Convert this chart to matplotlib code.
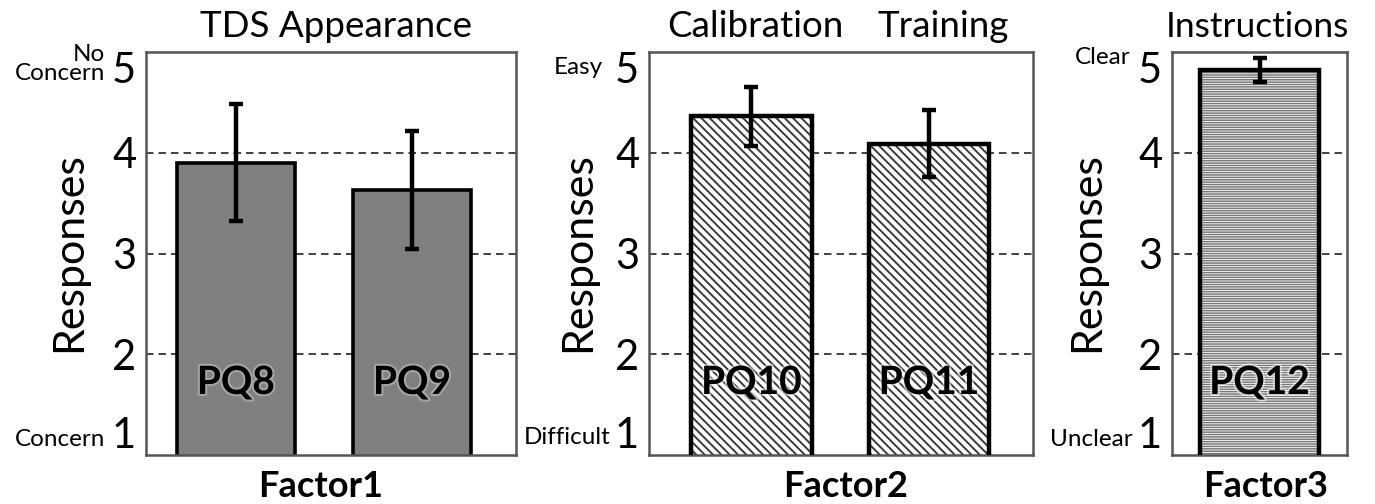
import matplotlib
matplotlib.use("Agg")
import matplotlib.pyplot as plt
import matplotlib.patheffects as pe

plt.rcParams['font.family'] = ['Lato', 'DejaVu Sans']

# ---------------- data ----------------
f1_labels = ["PQ8", "PQ9"]
f1_means = [3.90, 3.63]
f1_err = [0.58, 0.59]

f2_labels = ["PQ10", "PQ11"]
f2_means = [4.36, 4.09]
f2_err = [0.29, 0.33]

f3_labels = ["PQ12"]
f3_means = [4.82]
f3_err = [0.12]

yticks = [1, 2, 3, 4, 5]
ytick_labels = ["1", "2", "3", "4", "5"]

titles1 = ["TDS Appearance"]
titles2 = ["Calibration", "Training"]
titles3 = ["Instructions"]
factor_names = ["Factor1", "Factor2", "Factor3"]
anchors = [("No\nConcern", "Concern"), ("Easy", "Difficult"), ("Clear", "Unclear")]

W, H = 1375, 504
fig = plt.figure(figsize=(W / 100, H / 100), dpi=100)

def px_ax(l, r, t, b):
    return [l / W, (H - b) / H, (r - l) / W, (b - t) / H]

axes_px = [(146, 516, 52, 455), (649, 1033, 52, 455), (1172, 1347, 52, 455)]
xlims = [(-0.51, 1.59), (-0.577, 1.586), (-0.5, 0.5)]
bar_w = [0.67, 0.68, 0.68]

glow = [pe.withStroke(linewidth=3, foreground=(1, 1, 1, 0.5))]

def setup(ax, xl):
    ax.set_xlim(*xl)
    ax.set_ylim(1, 5)
    ax.set_xticks([])
    ax.set_yticks(yticks)
    ax.set_yticklabels(ytick_labels, fontsize=30)
    ax.tick_params(axis='y', length=0, pad=7)
    tl = ax.get_yticklabels()
    tl[-1].set_va('top')
    tl[0].set_va('bottom')
    for s in ax.spines.values():
        s.set_color('#555555')
        s.set_linewidth(1.8)
    for g in [2, 3, 4]:
        ax.axhline(g, color='#222222', lw=1.2, ls=(0, (4.5, 3)), zorder=1)

axs = []
for i, p in enumerate(axes_px):
    ax = fig.add_axes(px_ax(*p))
    setup(ax, xlims[i])
    axs.append(ax)

# Factor 1: solid gray bars
ax = axs[0]
x1 = list(range(len(f1_means)))
ax.bar(x1, f1_means, width=bar_w[0], bottom=0, color='#808080', edgecolor='black',
       linewidth=2.6, zorder=2)
ax.errorbar(x1, f1_means, yerr=f1_err, fmt='none', ecolor='black', elinewidth=3.2,
            capsize=5, capthick=3.2, zorder=4)
for xi, lab in zip(x1, f1_labels):
    ax.text(xi, 1.72, lab, ha='center', va='center', fontsize=28, fontweight='bold',
            zorder=5, path_effects=[pe.withStroke(linewidth=3, foreground=(0.75, 0.75, 0.75, 0.6))])

# Factor 2: diagonal hatch
plt.rcParams['hatch.linewidth'] = 1.4
ax = axs[1]
x2 = list(range(len(f2_means)))
ax.bar(x2, f2_means, width=bar_w[1], color='white', edgecolor='#3c3c3c', hatch='\\\\\\\\',
       linewidth=0, zorder=2)
ax.bar(x2, f2_means, width=bar_w[1], color='none', edgecolor='black', linewidth=3.2, zorder=3)
ax.errorbar(x2, f2_means, yerr=f2_err, fmt='none', ecolor='black', elinewidth=3.2,
            capsize=5, capthick=3.2, zorder=4)
for xi, lab in zip(x2, f2_labels):
    ax.text(xi, 1.72, lab, ha='center', va='center', fontsize=28, fontweight='bold',
            zorder=5, path_effects=glow)

# Factor 3: horizontal line hatch
plt.rcParams['hatch.linewidth'] = 1.1
ax = axs[2]
x3 = list(range(len(f3_means)))
ax.bar(x3, f3_means, width=bar_w[2], color='white', edgecolor='#7a7a7a', hatch='-------',
       linewidth=0, zorder=2)
ax.bar(x3, f3_means, width=bar_w[2], color='none', edgecolor='black', linewidth=3.2, zorder=3)
ax.errorbar(x3, f3_means, yerr=f3_err, fmt='none', ecolor='black', elinewidth=3.2,
            capsize=5, capthick=3.2, zorder=4)
for xi, lab in zip(x3, f3_labels):
    ax.text(xi, 1.72, lab, ha='center', va='center', fontsize=28, fontweight='bold',
            zorder=5, path_effects=glow)

# titles
def fx(px):
    return px / W

def fy(py):
    return (H - py) / H

fig.text(fx(336), fy(37), titles1[0], ha='center', va='baseline', fontsize=26.5)
fig.text(fx(755), fy(37), titles2[0], ha='center', va='baseline', fontsize=26.5)
fig.text(fx(943), fy(37), titles2[1], ha='center', va='baseline', fontsize=26.5)
fig.text(fx(1257), fy(37), titles3[0], ha='center', va='baseline', fontsize=25.5)

# factor labels
for cx, name in zip([321, 846, 1266], factor_names):
    fig.text(fx(cx), fy(497), name, ha='center', va='baseline', fontsize=26, fontweight='bold')

# y labels
for cx in [69, 578, 1087]:
    fig.text(fx(cx), fy(252), "Responses", ha='center', va='center', rotation=90, fontsize=31)

# anchor labels
fig.text(fx(105), fy(64), anchors[0][0], ha='right', va='center', fontsize=17.5,
         multialignment='right', linespacing=0.9)
fig.text(fx(105), fy(439), anchors[0][1], ha='right', va='center', fontsize=17.5)
fig.text(fx(603), fy(68), anchors[1][0], ha='right', va='center', fontsize=17.5)
fig.text(fx(610), fy(438), anchors[1][1], ha='right', va='center', fontsize=17.5)
fig.text(fx(1130), fy(58), anchors[2][0], ha='right', va='center', fontsize=17.5)
fig.text(fx(1133), fy(439), anchors[2][1], ha='right', va='center', fontsize=17.5)

fig.savefig("out.png", dpi=100, facecolor='white')
